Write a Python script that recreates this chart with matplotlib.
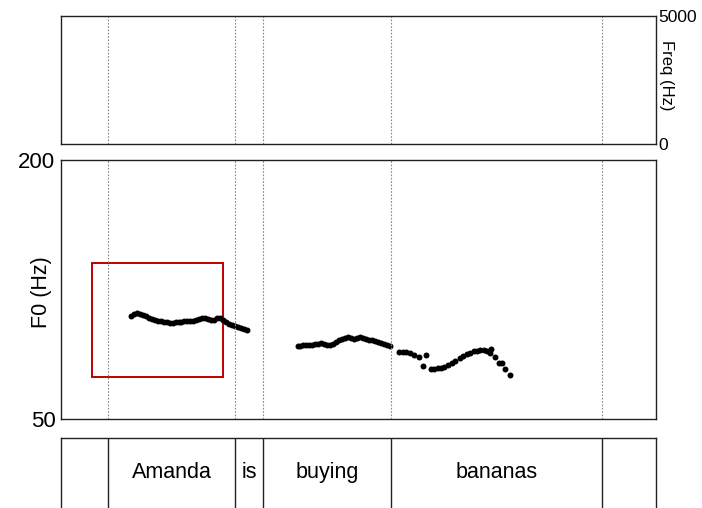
import matplotlib.pyplot as plt
from matplotlib.patches import Rectangle

plt.rcParams['font.family'] = ['Liberation Sans', 'DejaVu Sans']

# word boundaries (s) and labels
bounds = [0.158, 0.585, 0.679, 1.109, 1.818]
words = ['Amanda', 'is', 'buying', 'bananas']
t_end = 2.0

# pitch track, three voiced stretches (time in s, F0 in Hz)
t1 = [0.235, 0.245, 0.255, 0.265, 0.275, 0.285, 0.295, 0.305, 0.315, 0.325,
      0.335, 0.345, 0.355, 0.365, 0.375, 0.385, 0.395, 0.405, 0.415, 0.425,
      0.435, 0.445, 0.455, 0.465, 0.475, 0.485, 0.495, 0.505, 0.515, 0.525,
      0.535, 0.545, 0.555, 0.565, 0.575, 0.585, 0.595, 0.605, 0.615, 0.625]
f1 = [109.8, 110.8, 111.2, 110.9, 110.2, 109.4, 108.7, 108.1, 107.6, 107.0,
      106.5, 106.1, 105.9, 105.8, 105.8, 105.9, 106.1, 106.3, 106.5, 106.7,
      106.9, 107.0, 107.3, 107.9, 108.5, 108.7, 108.2, 107.3, 107.6, 108.4,
      108.7, 107.2, 105.9, 105.1, 104.4, 103.8, 103.2, 102.6, 102.0, 101.5]
t2 = [0.795, 0.805, 0.815, 0.825, 0.835, 0.845, 0.855, 0.865, 0.875, 0.885,
      0.895, 0.905, 0.915, 0.925, 0.935, 0.945, 0.955, 0.965, 0.975, 0.985,
      0.995, 1.005, 1.015, 1.025, 1.035, 1.045, 1.055, 1.065, 1.075, 1.085,
      1.095, 1.105]
f2 = [92.3, 92.5, 92.6, 92.8, 92.9, 93.1, 93.4, 93.6, 93.8, 93.5,
      93.1, 93.0, 93.6, 94.6, 95.5, 96.3, 96.9, 97.3, 97.0, 96.5,
      96.7, 97.3, 97.0, 96.4, 96.0, 95.6, 95.0, 94.5, 94.0, 93.3,
      92.7, 92.3]
t3 = [1.137, 1.149, 1.160, 1.174, 1.186, 1.202, 1.217, 1.228, 1.244, 1.255,
      1.266, 1.277, 1.288, 1.300, 1.314, 1.325, 1.340, 1.351, 1.365, 1.376,
      1.387, 1.398, 1.409, 1.421, 1.432, 1.441, 1.446, 1.460, 1.471, 1.482,
      1.493, 1.510]
f3 = [88.6, 89.0, 88.8, 88.1, 87.1, 86.1, 80.9, 87.1, 78.8, 79.1,
      79.4, 79.7, 80.3, 81.3, 82.3, 83.6, 85.2, 86.5, 87.5, 88.4,
      89.2, 89.6, 89.8, 89.8, 89.4, 88.4, 90.5, 86.1, 82.6, 82.3,
      78.8, 75.5]

# highlighted region
box_t = (0.104, 0.545)
box_f = (74.3, 140.3)

fig = plt.figure(figsize=(7.02, 5.08), dpi=100)
ax_spec = fig.add_axes([0.0869, 0.7165, 0.8476, 0.252])
ax_f0 = fig.add_axes([0.0869, 0.1752, 0.8476, 0.5098])
ax_tg = fig.add_axes([0.0869, -0.005, 0.8476, 0.143])

for ax in (ax_spec, ax_f0, ax_tg):
    ax.set_xlim(0, t_end)
    ax.set_xticks([])
    for s in ax.spines.values():
        s.set_color('#222222')
        s.set_linewidth(1.0)

# spectrogram panel (empty)
ax_spec.set_ylim(0, 5000)
ax_spec.yaxis.tick_right()
ax_spec.set_yticks([0, 5000])
ax_spec.tick_params(axis='y', length=0, pad=2, labelsize=12.5)
ax_spec.yaxis.set_label_position('right')
ax_spec.set_ylabel('Freq (Hz)', rotation=-90, fontsize=12, va='center')
ax_spec.yaxis.set_label_coords(1.018, 0.54)

# pitch panel
ax_f0.set_ylim(50, 200)
ax_f0.set_yticks([50, 200])
ax_f0.tick_params(axis='y', length=0, pad=4, labelsize=16)
ax_f0.set_ylabel('F0 (Hz)', fontsize=15.5, va='center')
ax_f0.yaxis.set_label_coords(-0.032, 0.49)
for t, f in ((t1, f1), (t2, f2), (t3, f3)):
    ax_f0.plot(t, f, 'o', color='black', ms=4.3, mew=0)
ax_f0.add_patch(Rectangle((box_t[0], box_f[0]), box_t[1] - box_t[0],
                          box_f[1] - box_f[0], fill=False,
                          edgecolor='#c00000', lw=1.4))

for b in bounds:
    ax_spec.axvline(b, color='#888888', lw=0.8, ls=(0, (1.5, 1.5)))
    ax_f0.axvline(b, color='#888888', lw=0.8, ls=(0, (1.5, 1.5)))
    ax_tg.axvline(b, color='#222222', lw=1.0)

# text grid tier
ax_tg.set_ylim(0, 1)
ax_tg.set_yticks([])
ax_tg.spines['bottom'].set_visible(False)
for w, a, b in zip(words, bounds[:-1], bounds[1:]):
    ax_tg.text((a + b) / 2, 0.53, w, ha='center', va='center', fontsize=15.5)

fig.savefig('out.png', dpi=100)
